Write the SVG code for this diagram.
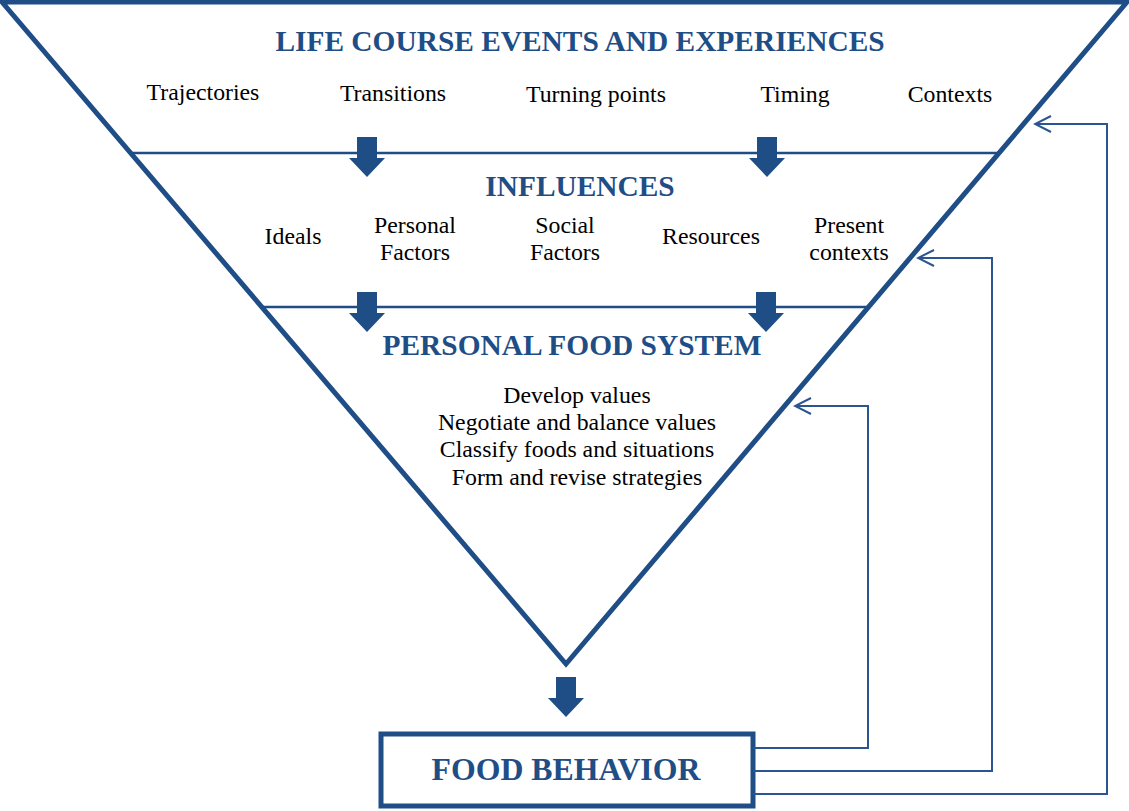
<svg xmlns="http://www.w3.org/2000/svg" width="1129" height="811" viewBox="0 0 1129 811">
<defs>
<style>
.t{font-family:"Liberation Serif","Times New Roman",serif;font-size:23.8px;fill:#000;text-anchor:middle}
.h{font-family:"Liberation Serif","Times New Roman",serif;font-size:29.4px;font-weight:bold;fill:#1F4E87;text-anchor:middle}
.thick{fill:none;stroke:#1F4E87;stroke-width:5}
.thin{fill:none;stroke:#1F4E87;stroke-width:2.5}
.fb{fill:none;stroke:#2B5590;stroke-width:2}
.blk{fill:#1F4E87}
</style>
<marker id="open" viewBox="0 0 20 20" refX="18" refY="10" markerWidth="20" markerHeight="20" markerUnits="userSpaceOnUse" orient="auto">
<path d="M2,2 L18,10 L2,18" fill="none" stroke="#2B5590" stroke-width="2"/>
</marker>
<path id="ba" d="M-10,0 H10 V21 H18 L0,40 L-18,21 H-10 Z"/>
</defs>
<g id="funnel">
<path class="thick" d="M2,2 H1127 L566,664 Z" stroke-linejoin="miter"/>
<line class="thin" x1="131" y1="153" x2="999" y2="153"/>
<line class="thin" x1="262" y1="307" x2="869" y2="307"/>
</g>
<g id="life-course">
<text class="h" x="580" y="51">LIFE COURSE EVENTS AND EXPERIENCES</text>
<text class="t" x="203" y="100">Trajectories</text>
<text class="t" x="393" y="101">Transitions</text>
<text class="t" x="596" y="102">Turning points</text>
<text class="t" x="795" y="102">Timing</text>
<text class="t" x="950" y="102">Contexts</text>
</g>
<g id="influences">
<text class="h" x="580" y="196">INFLUENCES</text>
<text class="t" x="293" y="244">Ideals</text>
<text class="t" x="415" y="233">Personal</text>
<text class="t" x="415" y="260">Factors</text>
<text class="t" x="565" y="233">Social</text>
<text class="t" x="565" y="260">Factors</text>
<text class="t" x="711" y="244">Resources</text>
<text class="t" x="849" y="233">Present</text>
<text class="t" x="849" y="260">contexts</text>
</g>
<g id="personal-food-system">
<text class="h" x="572" y="355">PERSONAL FOOD SYSTEM</text>
<text class="t" x="577" y="403">Develop values</text>
<text class="t" x="577" y="430">Negotiate and balance values</text>
<text class="t" x="577" y="457">Classify foods and situations</text>
<text class="t" x="577" y="485">Form and revise strategies</text>
</g>
<g id="food-behavior">
<rect class="thick" x="381" y="734" width="372" height="72"/>
<text class="h" x="566" y="780" style="font-size:31.8px">FOOD BEHAVIOR</text>
</g>
<g id="connectors">
<use href="#ba" class="blk" x="367" y="137"/>
<use href="#ba" class="blk" x="767" y="137"/>
<use href="#ba" class="blk" x="367" y="292"/>
<use href="#ba" class="blk" x="766" y="292"/>
<use href="#ba" class="blk" x="566" y="677"/>
<polyline class="fb" points="753,748 868,748 868,406 795,406" marker-end="url(#open)"/>
<polyline class="fb" points="753,771 992,771 992,258 918,258" marker-end="url(#open)"/>
<polyline class="fb" points="753,794 1107,794 1107,124 1035,124" marker-end="url(#open)"/>
</g>
</svg>
